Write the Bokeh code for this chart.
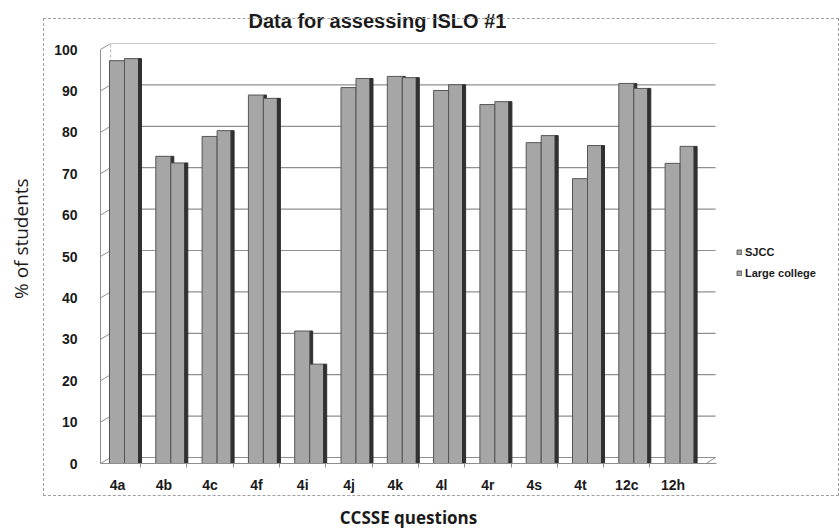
from bokeh.plotting import figure
from bokeh.models import (ColumnDataSource, FixedTicker, Legend, LegendItem,
                          Title, InlineStyleSheet)
from bokeh.transform import dodge
from bokeh.embed import file_html
from bokeh.resources import INLINE

categories = ["4a", "4b", "4c", "4f", "4i", "4j", "4k", "4l", "4r", "4s", "4t", "12c", "12h"]
sjcc = [97.3, 74.2, 79.0, 89.0, 32.0, 90.8, 93.5, 90.1, 86.7, 77.5, 68.8, 91.8, 72.5]
large = [97.8, 72.6, 80.4, 88.2, 24.0, 93.0, 93.2, 91.5, 87.4, 79.2, 76.8, 90.6, 76.6]
y_ticks = [0, 10, 20, 30, 40, 50, 60, 70, 80, 90, 100]

UNIT = 46.3            # px per category
DEPTH_Y = 1.45         # back-wall offset in y units
DEPTH_X = 0.22         # back-wall offset in x units

idx = list(range(len(categories)))
src = ColumnDataSource(dict(x=idx, sjcc=sjcc, large=large))

x_start = -17 / UNIT
x_end = x_start + 616 / UNIT

border_css = InlineStyleSheet(css="""
:host::after {
  content: ""; position: absolute; left: 43px; top: 22px;
  width: 796px; height: 478px; border: 1px dashed #a0a0a0;
  pointer-events: none; box-sizing: border-box;
}
""")

p = figure(width=839, height=535, output_backend="svg", toolbar_location=None,
           x_range=(x_start, x_end), y_range=(0, 101.45),
           frame_width=616, frame_height=420,
           min_border_left=100, min_border_right=123, min_border_top=46,
           min_border_bottom=69, background_fill_color="white",
           border_fill_color="white", outline_line_color=None,
           stylesheets=[border_css], styles={"margin-top": "-4px"})
p.xgrid.visible = False
p.ygrid.visible = False

# title
p.title = Title(text="Data for assessing ISLO #1", align="left", offset=148,
                text_font="Liberation Sans", text_font_size="20px",
                text_font_style="bold", text_color="#1a1a1a", standoff=23)

GRID = "#8f8f8f"
# back-wall gridlines
gx0, gx1 = x_start + DEPTH_X, x_end - 0.02
for v in y_ticks:
    p.segment(x0=gx0, y0=v + DEPTH_Y, x1=gx1, y1=v + DEPTH_Y,
              line_color=GRID, line_width=1.2)
    p.segment(x0=x_start, y0=v, x1=gx0, y1=v + DEPTH_Y,
              line_color=GRID, line_width=1)
# left wall back edge
p.segment(x0=gx0, y0=DEPTH_Y, x1=gx0, y1=100 + DEPTH_Y, line_color="#b0b0b0",
          line_width=1, line_dash="3 2")
# floor right corner
p.segment(x0=x_end - 0.22, y0=0.05, x1=gx1, y1=DEPTH_Y, line_color=GRID, line_width=1)

FACE = "#a6a6a6"
SIDE = "#303030"
EDGE = "#555555"
w1 = 15 / UNIT
w2 = 14 / UNIT
ws = 3 / UNIT

p.vbar(x=dodge("x", 8.5 / UNIT), top="sjcc", width=ws, source=src,
       fill_color=SIDE, line_color=SIDE)
r1 = p.vbar(x=dodge("x", -0.5 / UNIT), top="sjcc", width=w1, source=src,
            fill_color=FACE, line_color=EDGE, line_width=1)
r2 = p.vbar(x=dodge("x", 14 / UNIT), top="large", width=w2, source=src,
            fill_color=FACE, line_color=EDGE, line_width=1)
p.vbar(x=dodge("x", 22.5 / UNIT), top="large", width=ws, source=src,
       fill_color=SIDE, line_color=SIDE)

# axes
p.yaxis.ticker = FixedTicker(ticks=y_ticks)
p.yaxis.bounds = (0, 100)
p.yaxis.major_label_text_font = "Liberation Sans"
p.yaxis.major_label_text_font_style = "bold"
p.yaxis.major_label_text_font_size = "14px"
p.yaxis.major_label_text_color = "#1a1a1a"
p.yaxis.major_tick_out = 0
p.yaxis.major_tick_in = 0
p.yaxis.minor_tick_line_color = None
p.yaxis.major_label_standoff = 23
p.yaxis.axis_line_color = GRID
p.yaxis.axis_label = "\u00a0" * 6 + "% of students"
p.yaxis.axis_label_text_font = "Open Sans"
p.yaxis.axis_label_text_font_size = "19px"
p.yaxis.axis_label_text_font_style = "normal"
p.yaxis.axis_label_text_color = "#1a1a1a"
p.yaxis.axis_label_standoff = 17

p.xaxis.ticker = FixedTicker(ticks=idx, minor_ticks=[i + 0.5 for i in idx[:-1]] + [-0.5])
p.xaxis.major_label_overrides = {i: c for i, c in zip(idx, categories)}
p.xaxis.major_label_text_font = "Liberation Sans"
p.xaxis.major_label_text_font_style = "bold"
p.xaxis.major_label_text_font_size = "14px"
p.xaxis.major_label_text_color = "#1a1a1a"
p.xaxis.major_tick_out = 0
p.xaxis.major_tick_in = 0
p.xaxis.minor_tick_out = 4
p.xaxis.minor_tick_in = 0
p.xaxis.minor_tick_line_color = GRID
p.xaxis.major_label_standoff = 9
p.xaxis.axis_line_color = GRID
p.xaxis.axis_label = "CCSSE questions"
p.xaxis.axis_label_text_font = "Open Sans"
p.xaxis.axis_label_text_font_size = "17px"
p.xaxis.axis_label_text_font_style = "bold"
p.xaxis.axis_label_text_color = "#1a1a1a"
p.xaxis.axis_label_standoff = 10

legend = Legend(items=[LegendItem(label="SJCC", renderers=[r1]),
                       LegendItem(label="Large college", renderers=[r2])],
                location=(20, 184), border_line_color=None,
                background_fill_alpha=0, margin=0, padding=10,
                label_text_font="Liberation Sans", label_text_font_style="bold",
                label_text_font_size="11px", label_text_color="#1a1a1a",
                glyph_width=6, glyph_height=6, label_standoff=3,
                label_height=13, spacing=8)
p.add_layout(legend, "right")

open("out.html", "w").write(file_html(p, INLINE))
